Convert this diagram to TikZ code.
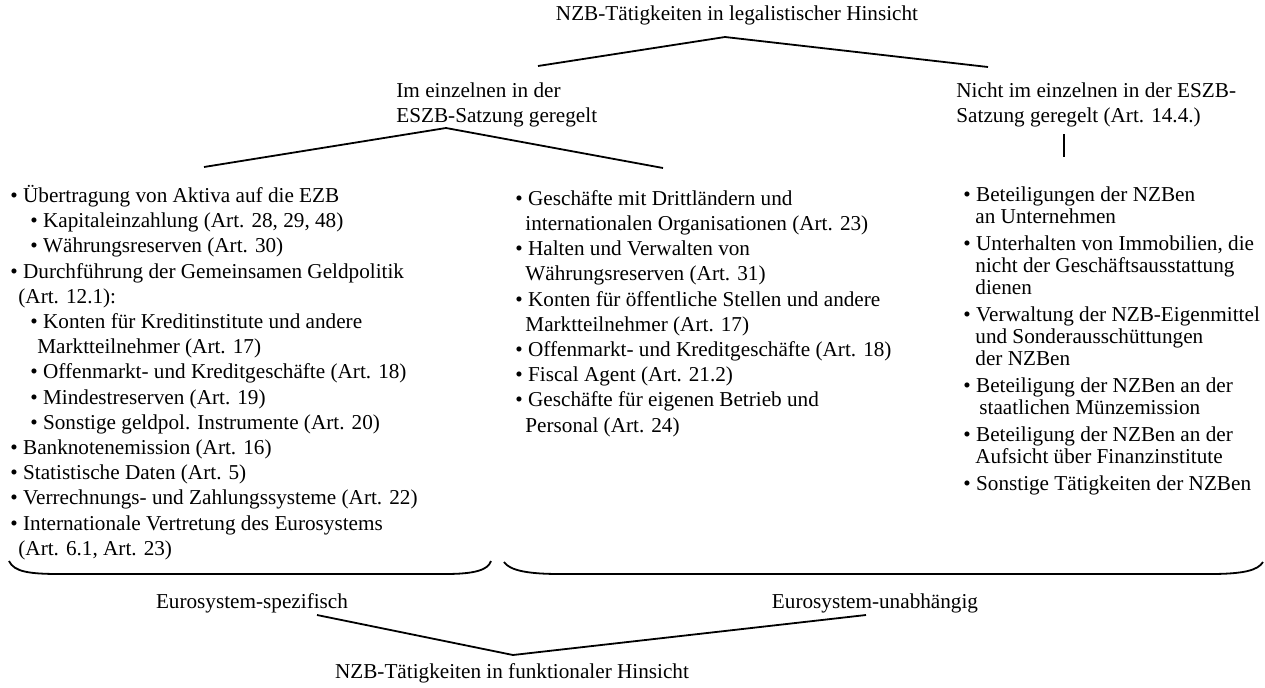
\documentclass[tikz,border=0pt]{standalone}
\usepackage{fontspec}
\setmainfont{Liberation Serif}
\usetikzlibrary{positioning}

\begin{document}
\begin{tikzpicture}[x=0.5pt,y=-0.5pt,
  every node/.style={inner sep=0pt,font=\fontsize{10.6}{12.6}\selectfont},
  liste/.style={anchor=north west,align=left},
  ast/.style={line width=0.9pt}]
\useasboundingbox (0,0) rectangle (1265,687);
\node[anchor=base] (legal) at (737,20) {NZB-Tätigkeiten in legalistischer Hinsicht};
\node[liste] (reg) at (396,82) {Im einzelnen in der\\ESZB-Satzung geregelt};
\node[liste] (nreg) at (956,82) {Nicht im einzelnen in der ESZB-\\Satzung geregelt (Art. 14.4.)};
\node[liste] (spez) at (10,185) {%
• Übertragung von Aktiva auf die EZB\\
\hspace*{10pt}• Kapitaleinzahlung (Art. 28, 29, 48)\\
\hspace*{10pt}• Währungsreserven (Art. 30)\\
• Durchführung der Gemeinsamen Geldpolitik\\
\hspace*{4pt}(Art. 12.1):\\
\hspace*{10pt}• Konten für Kreditinstitute und andere\\
\hspace*{13.5pt}Marktteilnehmer (Art. 17)\\
\hspace*{10pt}• Offenmarkt- und Kreditgeschäfte (Art. 18)\\
\hspace*{10pt}• Mindestreserven (Art. 19)\\
\hspace*{10pt}• Sonstige geldpol. Instrumente (Art. 20)\\
• Banknotenemission (Art. 16)\\
• Statistische Daten (Art. 5)\\
• Verrechnungs- und Zahlungssysteme (Art. 22)\\
• Internationale Vertretung des Eurosystems\\
\hspace*{4pt}(Art. 6.1, Art. 23)};
\node[liste] (unab) at (515,190) {%
• Geschäfte mit Drittländern und\\
\hspace*{5pt}internationalen Organisationen (Art. 23)\\
• Halten und Verwalten von\\
\hspace*{5pt}Währungsreserven (Art. 31)\\
• Konten für öffentliche Stellen und andere\\
\hspace*{5pt}Marktteilnehmer (Art. 17)\\
• Offenmarkt- und Kreditgeschäfte (Art. 18)\\
• Fiscal Agent (Art. 21.2)\\
• Geschäfte für eigenen Betrieb und\\
\hspace*{5pt}Personal (Art. 24)};
\node[liste,font=\fontsize{10.6}{11}\selectfont] (rest) at (963,186) {%
• Beteiligungen der NZBen\\
\hspace*{6pt}an Unternehmen\\[2.5pt]
• Unterhalten von Immobilien, die\\
\hspace*{6pt}nicht der Geschäftsausstattung\\
\hspace*{6pt}dienen\\[2.5pt]
• Verwaltung der NZB-Eigenmittel\\
\hspace*{6pt}und Sonderausschüttungen\\
\hspace*{6pt}der NZBen\\[2.5pt]
• Beteiligung der NZBen an der\\
\hspace*{8pt}staatlichen Münzemission\\[2.5pt]
• Beteiligung der NZBen an der\\
\hspace*{6pt}Aufsicht über Finanzinstitute\\[2.5pt]
• Sonstige Tätigkeiten der NZBen};
\node[anchor=base] (espez) at (252,608) {Eurosystem-spezifisch};
\node[anchor=base] (eunab) at (875,608) {Eurosystem-unabhängig};
\node[anchor=base] (funk) at (512,678) {NZB-Tätigkeiten in funktionaler Hinsicht};
\coordinate (a0) at (725,37);
\coordinate (a1) at (538,66);
\coordinate (a2) at (988,67);
\coordinate (b0) at (446,128);
\coordinate (b1) at (204,167);
\coordinate (b2) at (663,168);
\coordinate (c1) at (1064,134);
\coordinate (c2) at (1064,157);
\coordinate (d0) at (513,655);
\coordinate (d1) at (317,615);
\coordinate (d2) at (866,615);
\foreach \from/\to in {a0/a1,a0/a2,b0/b1,b0/b2,c1/c2,d0/d1,d0/d2}
  \draw[ast] (\from) -- (\to);
% Klammern
\draw[ast] (9,561) .. controls (14,572) and (30,574) .. (60,574) -- (445,574)
  .. controls (475,574) and (488,570) .. (491,561);
\draw[ast] (504,562) .. controls (510,571) and (530,574) .. (560,574) -- (1210,574)
  .. controls (1245,574) and (1258,570) .. (1263,562);
\end{tikzpicture}
\end{document}
